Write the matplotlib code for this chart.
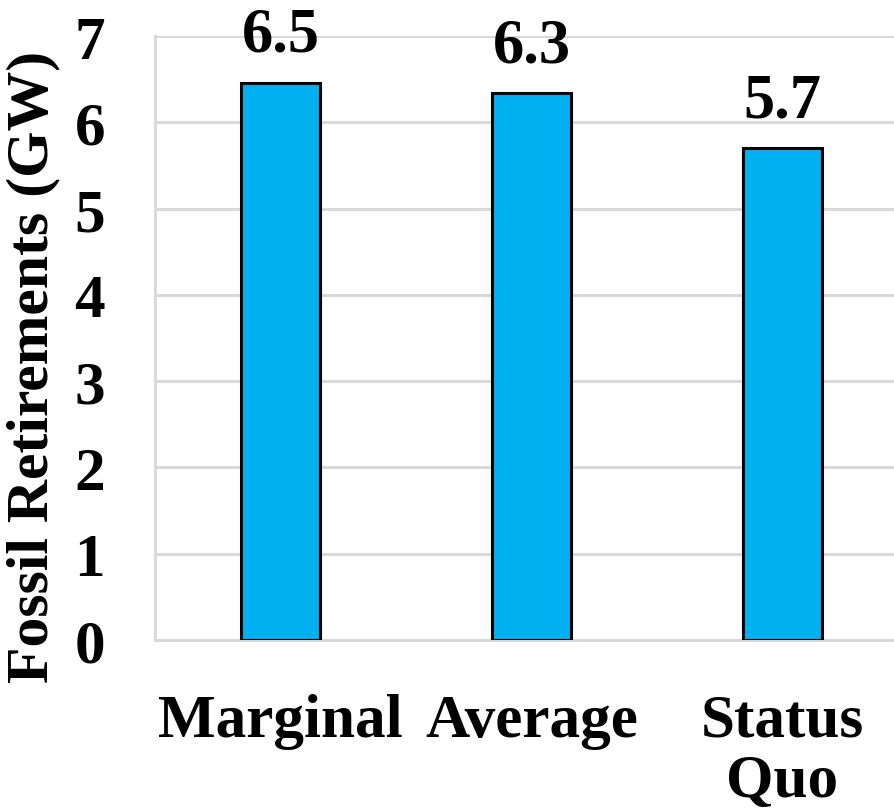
import matplotlib
matplotlib.use("Agg")
import matplotlib.pyplot as plt

categories = ["Marginal", "Average", "Status\nQuo"]
values = [6.46, 6.34, 5.70]
yticks = [0, 1, 2, 3, 4, 5, 6, 7]

plt.rcParams['font.family'] = ['Liberation Serif', 'DejaVu Serif']
plt.rcParams['font.weight'] = 'bold'

fig = plt.figure(figsize=(8.94, 8.12), dpi=100)
ax = fig.add_axes([155/894, 171/812, 753/894, 604/812])

x = list(range(len(categories)))
bars = ax.bar(x, values, width=0.318, color='#00B0F0', edgecolor='black', linewidth=2.2, zorder=3)
for xi, v in zip(x, values):
    ax.text(xi, v + 0.37, f"{v:.1f}", ha='center', va='baseline', fontsize=45, fontweight='bold')

ax.set_xlim(-0.5, len(categories) - 0.5)
ax.set_ylim(0, 7)
ax.set_yticks(yticks)
ax.set_yticklabels([str(t) for t in yticks], fontsize=44, fontweight='bold')
ax.set_xticks(x)
ax.set_xticklabels(categories, fontsize=44, fontweight='bold', linespacing=1.1)
ax.tick_params(axis='both', length=0)
ax.tick_params(axis='y', pad=36)
ax.tick_params(axis='x', pad=38)
ax.grid(axis='y', color='#D9D9D9', linewidth=2.2, zorder=0)
ax.set_axisbelow(True)
for s in ['top', 'right']:
    ax.spines[s].set_visible(False)
for s in ['left', 'bottom']:
    ax.spines[s].set_color('#D9D9D9')
    ax.spines[s].set_linewidth(2.2)
ax.set_ylabel("Fossil Retirements (GW)", fontsize=43, fontweight='bold')
ax.yaxis.set_label_coords((60 - 155) / 753, (641 - 367) / 604)

fig.savefig("out.png", dpi=100)
